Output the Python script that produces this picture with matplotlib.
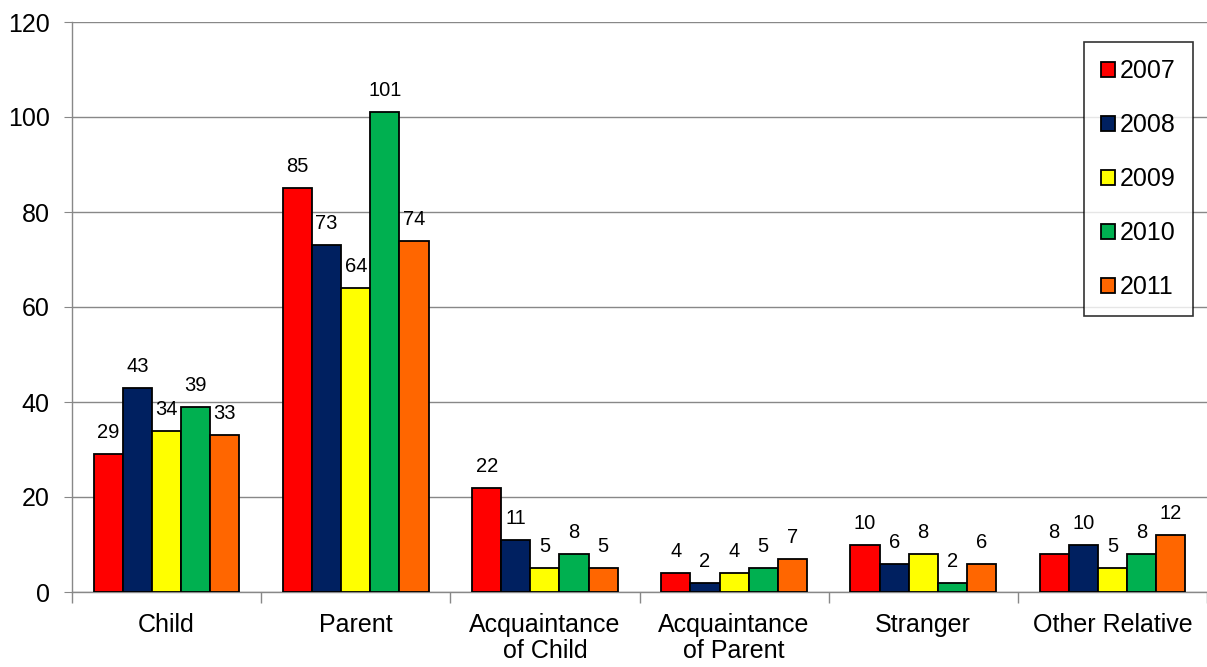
import matplotlib
matplotlib.use("Agg")
import matplotlib.pyplot as plt
import numpy as np

plt.rcParams['font.family'] = ['Liberation Sans', 'DejaVu Sans']

categories = ["Child", "Parent", "Acquaintance\nof Child", "Acquaintance\nof Parent",
              "Stranger", "Other Relative"]
years = ["2007", "2008", "2009", "2010", "2011"]
values = {
    "2007": [29, 85, 22, 4, 10, 8],
    "2008": [43, 73, 11, 2, 6, 10],
    "2009": [34, 64, 5, 4, 8, 5],
    "2010": [39, 101, 8, 5, 2, 8],
    "2011": [33, 74, 5, 7, 6, 12],
}
colors = ["#FF0000", "#002060", "#FFFF00", "#00B050", "#FF6600"]

fig = plt.figure(figsize=(12.07, 6.67), dpi=100)
ax = fig.add_axes([72 / 1207, 75 / 667, 1 - 72 / 1207, (592 - 22) / 667])

n = len(years)
x = np.arange(len(categories))
bw = 1.0 / (n + 1.5)

for i, (yr, col) in enumerate(zip(years, colors)):
    pos = x + (i - (n - 1) / 2) * bw
    bars = ax.bar(pos, values[yr], width=bw, color=col, edgecolor="black",
                  linewidth=1.3, label=yr, zorder=3)
    for b, v in zip(bars, values[yr]):
        ax.annotate(str(v), (b.get_x() + b.get_width() / 2, v),
                    xytext=(0, 8.5), textcoords="offset points",
                    ha="center", va="bottom", fontsize=14.5, color="black")

ax.set_xlim(-0.5, len(categories) - 0.5)
ax.set_ylim(0, 120)
ax.set_yticks(np.arange(0, 121, 20))
ax.tick_params(axis="y", labelsize=18, length=6, color="#888888", pad=10)
ax.set_xticks(x)
ax.set_xticklabels(categories, fontsize=18, linespacing=1.12)
ax.tick_params(axis="x", length=0, pad=15)
ax.set_xticks(np.arange(-0.5, len(categories), 1.0), minor=True)
ax.tick_params(axis="x", which="minor", length=8, color="#888888", width=1)

ax.grid(axis="y", color="#888888", linewidth=1, zorder=0)
for s in ["top", "right"]:
    ax.spines[s].set_visible(False)
for s in ["left", "bottom"]:
    ax.spines[s].set_color("#888888")
    ax.spines[s].set_linewidth(1)

leg = ax.legend(loc="upper right", bbox_to_anchor=((1193 - 72) / 1135, 1 - 20 / 570),
                fontsize=18, frameon=True, fancybox=False, handlelength=0.55,
                handleheight=0.55, handletextpad=0.2, labelspacing=1.2,
                borderpad=0.68, borderaxespad=0)
leg.get_frame().set_edgecolor("black")
leg.get_frame().set_linewidth(1.2)

fig.savefig("out.png", dpi=100)
